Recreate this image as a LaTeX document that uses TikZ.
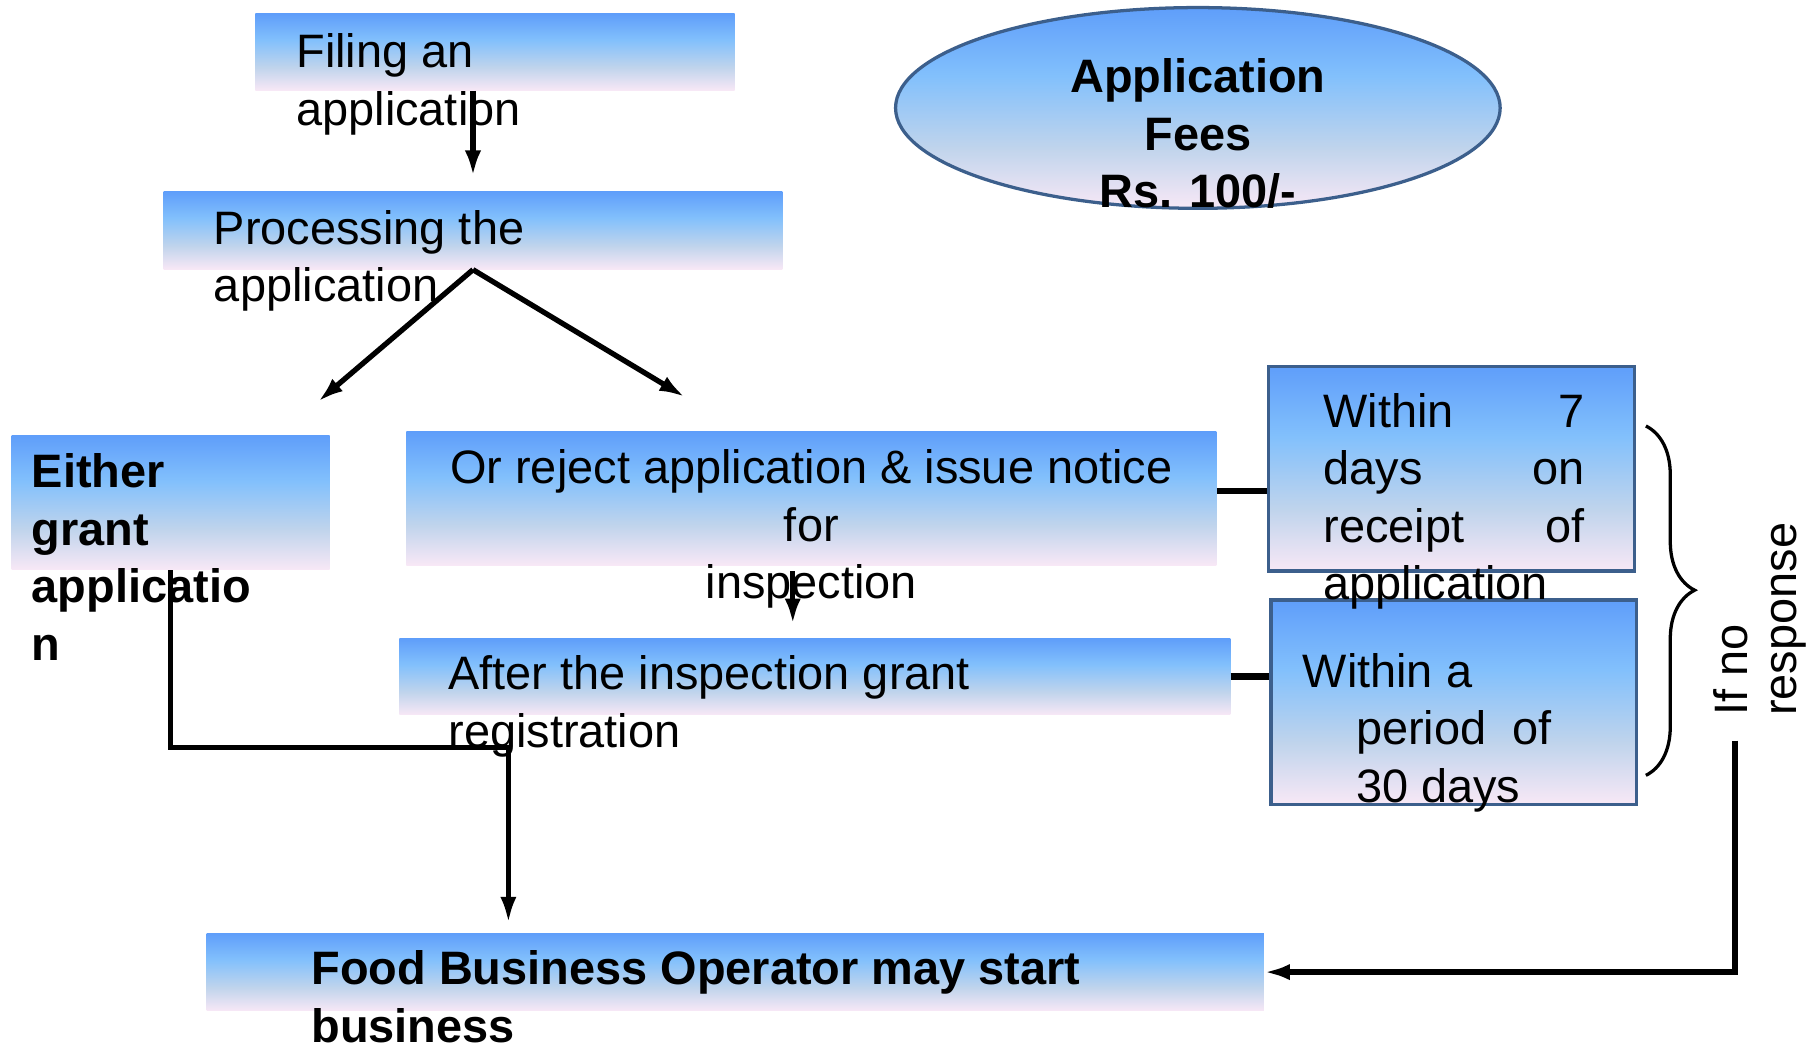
\documentclass[tikz,border=0pt]{standalone}
\usepackage{fontspec}
\setmainfont{Liberation Sans}
\usetikzlibrary{shapes.geometric, arrows.meta, decorations.pathreplacing}

\definecolor{boxtop}{RGB}{95,158,250}
\definecolor{boxmid}{RGB}{130,192,252}
\definecolor{boxgray}{RGB}{192,212,236}
\definecolor{boxpink}{RGB}{248,232,246}
\definecolor{boxedge}{RGB}{60,95,140}

\pgfdeclareverticalshading{boxfill}{100bp}{color(0bp)=(boxpink); color(25bp)=(boxpink); color(40bp)=(boxgray); color(58bp)=(boxmid); color(75bp)=(boxtop); color(100bp)=(boxtop)}

\tikzset{
    stepbox/.style={rectangle, inner sep=0pt, shading=boxfill},
    framebox/.style={stepbox, draw=boxedge, line width=1.6pt},
    steptext/.style={inner sep=0pt, align=left, font=\fontsize{23}{28.2}\selectfont},
    boldtext/.style={steptext, font=\fontsize{23}{28.2}\selectfont\bfseries},
    flowarrow/.style={line width=2.6pt, -{Latex[length=0.44cm, width=0.28cm]}},
    linkline/.style={line width=3.2pt},
}

\begin{document}
\begin{tikzpicture}[x=0.02cm, y=-0.02cm]
    \useasboundingbox (0,0) rectangle (1568,902);

    % boxes
    \node[stepbox, minimum width=8.26cm, minimum height=1.32cm] (filing) at (426.5,45) {};
    \node[stepbox, minimum width=10.66cm, minimum height=1.34cm] (proc) at (407.5,198.5) {};
    \node[stepbox, minimum width=5.48cm, minimum height=2.32cm] (either) at (147,433) {};
    \node[stepbox, minimum width=13.96cm, minimum height=2.3cm] (reject) at (699,429.5) {};
    \node[stepbox, minimum width=14.32cm, minimum height=1.32cm] (after) at (702,583) {};
    \node[stepbox, minimum width=18.22cm, minimum height=1.34cm] (food) at (633.5,837.5) {};
    \node[framebox, minimum width=6.3cm, minimum height=3.52cm] (within7) at (1250.5,404) {};
    \node[framebox, minimum width=6.3cm, minimum height=3.52cm] (within30) at (1252.5,605) {};
    \node[ellipse, draw=boxedge, line width=1.6pt, shading=boxfill, inner sep=0pt,
          minimum width=10.42cm, minimum height=3.46cm] (fees) at (1032,93) {};

    % texts (anchored at the baseline of the last line)
    \node[steptext, anchor=base west] (filing-text) at (255,108) {Filing an\\application};
    \node[steptext, anchor=base west] (proc-text) at (184,260) {Processing the\\application};
    \node[boldtext, anchor=base west] (either-text) at (27,569) {Either\\grant\\applicatio\\n};
    \node[steptext, align=center, anchor=base] (reject-text) at (699,516) {Or reject application \& issue notice\\for\\inspection};
    \node[steptext, anchor=base west] (after-text) at (386,644) {After the inspection grant\\registration};
    \node[boldtext, anchor=base west] (food-text) at (268,898) {Food Business Operator may start\\business};
    \node[boldtext, align=center, anchor=base] (fees-text) at (1032,179) {Application\\Fees\\Rs. 100/-};
    \node[steptext, text width=4.5cm, anchor=base west] (within7-text) at (1140,368) {Within\hfill 7\\days\hfill on\\receipt\hfill of\\application};
    \node[steptext, anchor=base west] (within30-text) at (1122,691) {Within a\\\hspace*{0.92cm}period\ \ of\\\hspace*{0.92cm}30 days};
    \node[steptext, font=\fontsize{23}{24}\selectfont, rotate=90, anchor=base west] (noresp-text) at (1548,617) {If no\\response};

    % connectors
    \coordinate (to-grant) at (274,346);
    \coordinate (to-reject) at (590,342);
    \coordinate (grant-turn) at (438,644);
    \coordinate (brace-top) at (1418,367);
    \coordinate (brace-bot) at (1418,668);
    \coordinate (nr-start) at (1495,638);

    \draw[flowarrow, shorten >=0.26cm] (filing.south -| proc.south) -- (proc.north);
    \draw[flowarrow] (proc.south) -- (to-grant);
    \draw[flowarrow] (proc.south) -- (to-reject);
    \draw[flowarrow, shorten <=0.1cm, shorten >=0.24cm] ([xshift=-0.32cm]reject.south) -- ([xshift=-0.32cm]reject.south |- after.north);
    \draw[flowarrow, line width=2.2pt, shorten >=0.18cm] (either.south) |- (grant-turn) -- (grant-turn |- food.north);
    \draw[linkline] ([yshift=0.13cm]reject.east) -- ([yshift=0.13cm]reject.east -| within7.west);
    \draw[linkline] (after.east) -- (after.east -| within30.west);
    \draw[line width=1.6pt, decorate, decoration={brace, amplitude=0.84cm, aspect=0.47}] (brace-top) -- (brace-bot);
    \draw[flowarrow, line width=2.8pt] (nr-start) |- (food.east);
\end{tikzpicture}
\end{document}
